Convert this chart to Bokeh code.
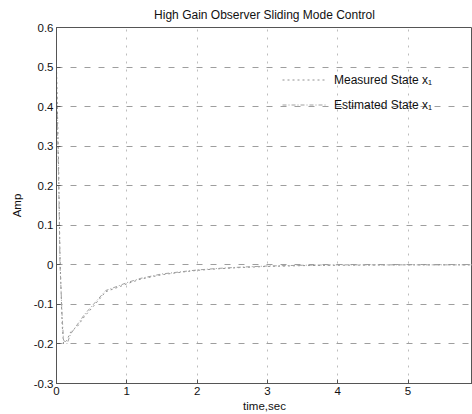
from bokeh.plotting import figure
from bokeh.models import Range1d, FixedTicker, Legend, LegendItem
from bokeh.embed import file_html
from bokeh.resources import INLINE

# data
t_meas = [0.0, 0.01, 0.03, 0.05, 0.08, 0.10, 0.15, 0.20, 0.30, 0.40, 0.50, 0.70, 0.90, 1.00, 1.20, 1.50, 1.80, 2.00, 2.30, 2.60, 3.00, 3.50, 4.00, 5.00, 6.00]
y_meas = [0.50, 0.42, 0.25, 0.02, -0.15, -0.20, -0.19, -0.17, -0.155, -0.13, -0.11, -0.068, -0.055, -0.048, -0.036, -0.025, -0.018, -0.014, -0.010, -0.007, -0.004, -0.002, -0.001, 0.0, 0.0]
t_est = [0.0, 0.01, 0.03, 0.05, 0.08, 0.10, 0.15, 0.20, 0.30, 0.40, 0.50, 0.70, 0.90, 1.00, 1.20, 1.50, 1.80, 2.00, 2.30, 2.60, 3.00, 3.50, 4.00, 5.00, 6.00]
y_est = [0.45, 0.38, 0.22, 0.0, -0.13, -0.19, -0.20, -0.175, -0.15, -0.125, -0.105, -0.065, -0.052, -0.045, -0.034, -0.023, -0.017, -0.013, -0.009, -0.006, -0.003, -0.001, 0.0, 0.0, 0.0]
x_ticks = [0, 1, 2, 3, 4, 5]
y_ticks = [-0.3, -0.2, -0.1, 0, 0.1, 0.2, 0.3, 0.4, 0.5, 0.6]
y_tick_labels = {-0.3: "-0.3", -0.2: "-0.2", -0.1: "-0.1", 0: "0", 0.1: "0.1", 0.2: "0.2",
                 0.3: "0.3", 0.4: "0.4", 0.5: "0.5", 0.6: "0.6"}

FONT = "Liberation Sans"

p = figure(width=472, height=414, output_backend="svg", toolbar_location=None,
           x_range=Range1d(0, 5.917), y_range=Range1d(-0.3, 0.6),
           title="High Gain Observer Sliding Mode Control",
           min_border_left=56, min_border_right=0, min_border_top=0, min_border_bottom=31)

p.title.align = "center"
p.title.text_font = FONT
p.title.text_font_size = "12px"
p.title.text_font_style = "normal"
p.title.text_color = "#111111"
p.title.offset = 40
p.title.standoff = 11

p.xaxis.ticker = FixedTicker(ticks=x_ticks)
p.yaxis.ticker = FixedTicker(ticks=y_ticks)
p.yaxis.major_label_overrides = y_tick_labels
for ax in (p.xaxis, p.yaxis):
    ax.major_label_text_font = FONT
    ax.major_label_text_font_size = "11.5px"
    ax.major_label_text_color = "#111111"
    ax.axis_label_text_font = FONT
    ax.axis_label_text_font_size = "11.5px"
    ax.axis_label_text_font_style = "normal"
    ax.axis_label_text_color = "#111111"
    ax.major_tick_in = 4
    ax.major_tick_out = 0
    ax.minor_tick_line_color = None
    ax.axis_line_color = "#555555"
    ax.major_tick_line_color = "#555555"
p.xaxis.axis_label = "time,sec"
p.yaxis.axis_label = "Amp"
p.xaxis.axis_label_standoff = 2
p.yaxis.axis_label_standoff = 8
p.xaxis.major_label_standoff = 3
p.yaxis.major_label_standoff = 3

p.xgrid.grid_line_color = "#bdbdbd"
p.xgrid.grid_line_dash = "2 6"
p.ygrid.grid_line_color = "#9e9e9e"
p.ygrid.grid_line_dash = "6 8"
p.outline_line_color = "#555555"
p.background_fill_color = "white"
p.border_fill_color = "white"

r1 = p.line(t_meas, y_meas, line_color="#909090", line_width=1, line_dash="2 3")
r2 = p.line(t_est, y_est, line_color="#a0a0a0", line_width=1, line_dash="4 2 1 2")

legend = Legend(items=[LegendItem(label="Measured State x\u2081", renderers=[r1]),
                       LegendItem(label="Estimated State x\u2081", renderers=[r2])],
                location=(226, 268))
legend.label_text_font = FONT
legend.label_text_font_size = "12px"
legend.label_text_color = "#111111"
legend.border_line_color = None
legend.background_fill_alpha = 0
legend.glyph_width = 44
legend.glyph_height = 21
legend.spacing = 4
legend.padding = 2
legend.label_standoff = 8
p.add_layout(legend, "center")

open("out.html", "w").write(file_html(p, INLINE))
